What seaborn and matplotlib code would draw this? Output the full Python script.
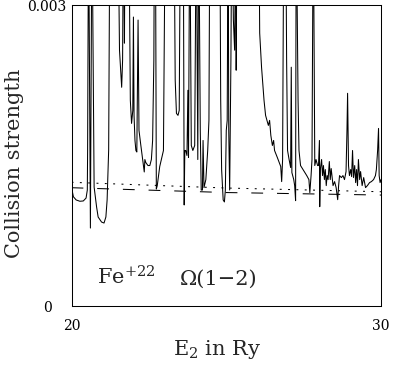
import seaborn as sns
import matplotlib.pyplot as plt

# collision strength (values above 0.003 are off-scale resonances)
energy = [
    20.00, 20.06, 20.15, 20.27, 20.38, 20.47, 20.51, 20.52, 20.55, 20.61,
    20.66, 20.73, 20.81, 20.86, 20.97, 21.05, 21.11, 21.15, 21.20, 21.24,
    21.50, 21.55, 21.62, 21.65, 21.68, 21.71, 21.73, 21.85, 21.90, 21.94,
    21.98, 22.00, 22.02, 22.05, 22.08, 22.11, 22.15, 22.18, 22.24, 22.35,
    22.37, 22.40, 22.47, 22.53, 22.58, 22.62, 22.66, 22.68, 22.71, 22.74,
    22.77, 22.85, 22.97, 23.03, 23.31, 23.35, 23.39, 23.44, 23.48, 23.52,
    23.61, 23.64, 23.66, 23.69, 23.73, 23.76, 23.78, 23.82, 23.87, 23.92,
    23.98, 24.03, 24.08, 24.11, 24.16, 24.19, 24.23, 24.25, 24.28, 24.34,
    24.40, 24.44, 24.47, 24.79, 24.82, 24.85, 24.90, 24.94, 24.97, 25.00,
    25.03, 25.06, 25.08, 25.11, 25.15, 25.18, 25.23, 25.27, 25.31, 25.32,
    25.35, 25.70, 26.05, 26.08, 26.14, 26.22, 26.27, 26.36, 26.40, 26.44,
    26.49, 26.53, 26.56, 26.65, 26.76, 26.79, 26.82, 26.86, 26.92, 26.95,
    26.98, 27.03, 27.08, 27.10, 27.12, 27.18, 27.21, 27.24, 27.26, 27.32,
    27.35, 27.40, 27.50, 27.60, 27.67, 27.70, 27.74, 27.77, 27.81, 27.85,
    27.86, 27.90, 27.95, 27.98, 28.01, 28.02, 28.04, 28.08, 28.11, 28.14,
    28.17, 28.20, 28.23, 28.26, 28.29, 28.33, 28.36, 28.39, 28.45, 28.50,
    28.55, 28.60, 28.63, 28.66, 28.72, 28.77, 28.82, 28.87, 28.90, 28.92,
    28.95, 28.98, 29.02, 29.05, 29.08, 29.11, 29.15, 29.18, 29.21, 29.24,
    29.27, 29.31, 29.34, 29.39, 29.44, 29.50, 29.56, 29.63, 29.69, 29.76,
    29.82, 29.85, 29.89, 29.92, 29.94, 29.97, 30.00,
]
omega = [
    0.001183, 0.001089, 0.001057, 0.001044, 0.001047, 0.001076, 0.001156, 0.001555, 0.0040, 0.000777,
    0.0040, 0.001186, 0.000987, 0.000887, 0.000837, 0.000827, 0.000887, 0.001057, 0.001555, 0.0040,
    0.0040, 0.00255, 0.00218, 0.00245, 0.0040, 0.00262, 0.0040, 0.0040, 0.00205, 0.00182,
    0.00195, 0.00288, 0.00190, 0.00165, 0.00155, 0.001535, 0.00285, 0.00175, 0.00160, 0.001336,
    0.00146, 0.00143, 0.00140, 0.00140, 0.00146, 0.00165, 0.00245, 0.0040, 0.0040, 0.001166,
    0.00120, 0.00139, 0.00155, 0.0040, 0.0040, 0.00225, 0.00192, 0.00190, 0.00195, 0.0040,
    0.0040, 0.001007, 0.00155, 0.00155, 0.00150, 0.00215, 0.00148, 0.0040, 0.00160, 0.00155,
    0.00160, 0.0040, 0.00146, 0.0040, 0.00175, 0.001156, 0.001156, 0.00165, 0.00118, 0.00126,
    0.00155, 0.00185, 0.0040, 0.0040, 0.00205, 0.00136, 0.001057, 0.001037, 0.001156, 0.00175,
    0.00185, 0.0040, 0.00175, 0.001156, 0.00245, 0.0040, 0.00285, 0.00255, 0.0040, 0.00235,
    0.0040, 0.0050, 0.0040, 0.00272, 0.00238, 0.00205, 0.00190, 0.00180, 0.00185, 0.00170,
    0.00160, 0.00165, 0.00155, 0.00148, 0.00139, 0.00124, 0.00146, 0.0040, 0.0040, 0.00245,
    0.00155, 0.00146, 0.00138, 0.00238, 0.00133, 0.00126, 0.00120, 0.00105, 0.0040, 0.00205,
    0.00155, 0.00140, 0.00135, 0.00130, 0.00126, 0.00113, 0.00130, 0.00146, 0.0040, 0.00205,
    0.00140, 0.00146, 0.00140, 0.00140, 0.00165, 0.00099, 0.00136, 0.00146, 0.00130, 0.00140,
    0.00126, 0.00136, 0.00120, 0.00130, 0.00126, 0.00144, 0.00126, 0.00137, 0.00120, 0.00124,
    0.00118, 0.00106, 0.00120, 0.00130, 0.00128, 0.00130, 0.00126, 0.00134, 0.00175, 0.00212,
    0.00140, 0.00130, 0.00136, 0.00129, 0.00155, 0.00128, 0.00140, 0.00123, 0.00136, 0.00120,
    0.00146, 0.00126, 0.00134, 0.00120, 0.00128, 0.00118, 0.00120, 0.00123, 0.00124, 0.00126,
    0.00130, 0.00136, 0.00155, 0.00177, 0.00130, 0.00123, 0.00126,
]

# smooth background curves
bg_energy = [20.0, 25.0, 30.0]
omega_dotted = [0.001233, 0.001176, 0.001139]
omega_dashed = [0.001179, 0.001131, 0.001106]

sns.set_style("white")
plt.rcParams['font.family'] = ['DejaVu Serif']
plt.rcParams['mathtext.fontset'] = 'dejavuserif'
plt.rcParams['lines.scale_dashes'] = False

fig = plt.figure(figsize=(3.93, 3.65), dpi=100)
ax = fig.add_axes([0.182, 0.1616, 0.7875, 0.8247])

sns.lineplot(x=energy, y=omega, ax=ax, estimator=None, sort=False,
             color='black', lw=0.75)
sns.lineplot(x=bg_energy, y=omega_dotted, ax=ax, estimator=None,
             color='black', lw=0.75, linestyle=(0, (1.4, 4.6)))
sns.lineplot(x=bg_energy, y=omega_dashed, ax=ax, estimator=None,
             color='black', lw=0.75, linestyle=(0, (8.5, 10)))

ax.set_xlim(20, 30)
ax.set_ylim(0, 0.003)
ax.set_xticks([20, 30])
ax.set_xticklabels(['20', '30'])
ax.set_yticks([0, 0.003])
ax.set_yticklabels(['0', '0.003'])
ax.tick_params(axis='both', length=0, labelsize=10, colors='black')
ax.tick_params(axis='x', pad=9.4)
ax.tick_params(axis='y', pad=17.6)
for lab in ax.get_yticklabels():
    lab.set_ha('center')

for sp in ax.spines.values():
    sp.set_visible(True)
    sp.set_color('black')
    sp.set_linewidth(0.75)

ax.set_xlabel('E$_2$ in Ry', fontsize=15)
ax.xaxis.set_label_coords(0.472, -0.106)
ax.set_ylabel('Collision strength', fontsize=15)
ax.yaxis.set_label_coords(-0.153, 0.475)

ax.text(0.082, 0.070, 'Fe$^{+22}$', transform=ax.transAxes, fontsize=15,
        va='baseline', ha='left')
ax.text(0.351, 0.070, 'Ω(1−2)', transform=ax.transAxes, fontsize=15,
        va='baseline', ha='left')

fig.savefig('out.png', dpi=100)
